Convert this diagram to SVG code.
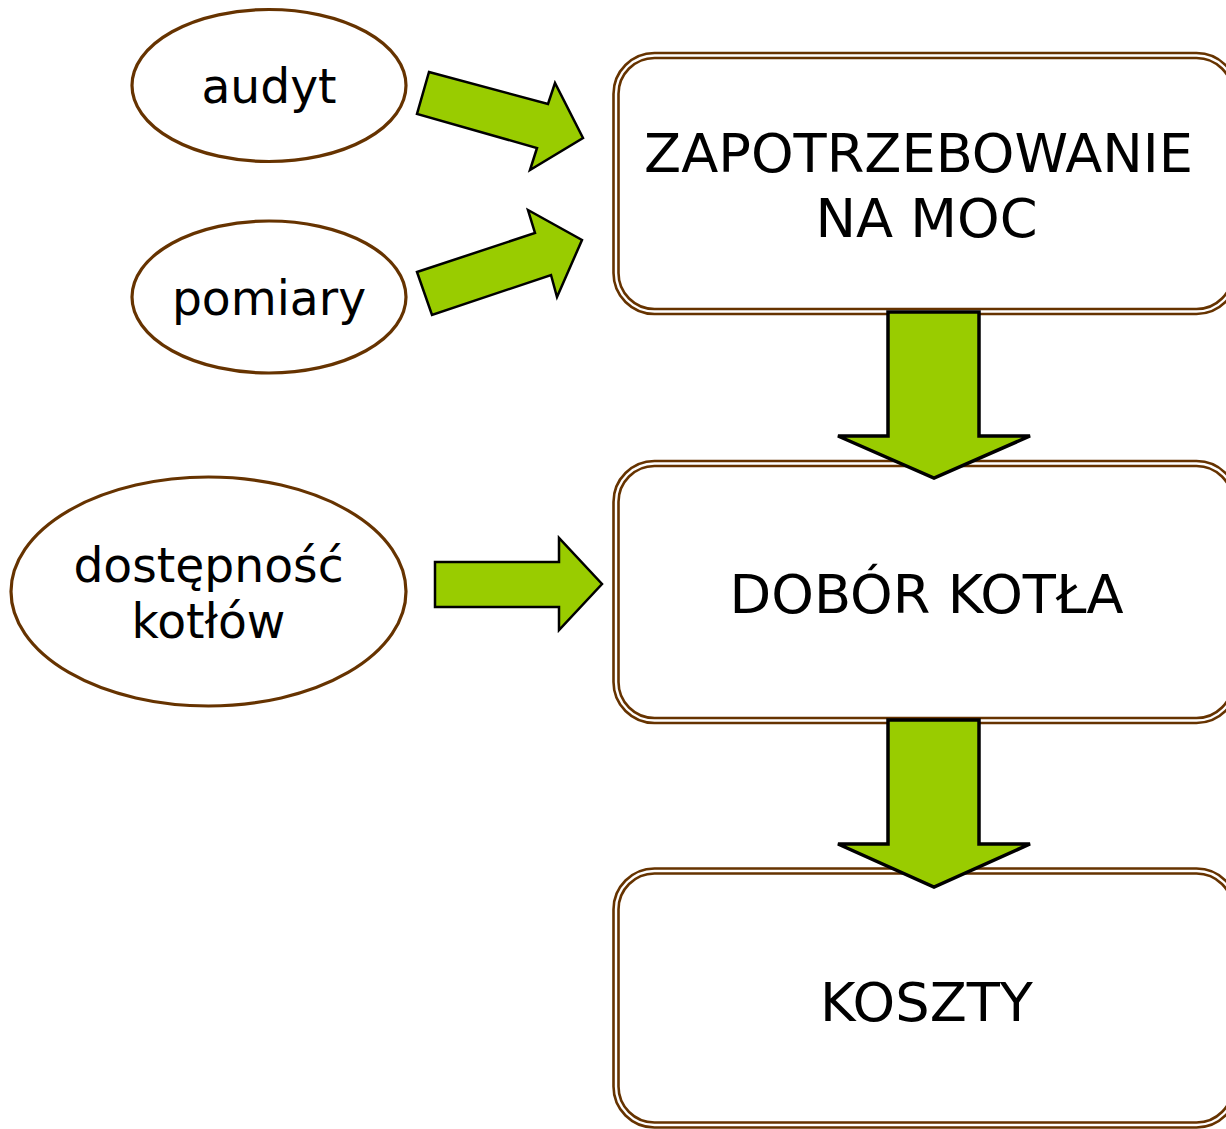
<svg xmlns="http://www.w3.org/2000/svg" width="1226" height="1129" viewBox="0 0 1226 1129">
<style>
.bg{fill:#ffffff}
.ell{fill:#ffffff;stroke:#663300;stroke-width:3.2}
.boxo{fill:#ffffff;stroke:#663300;stroke-width:2.6}
.boxi{fill:none;stroke:#663300;stroke-width:2.6}
.arr{fill:#99CC00;stroke:#000000;stroke-width:2.5;stroke-linejoin:miter}
.arrd{fill:#99CC00;stroke:#000000;stroke-width:3.5;stroke-linejoin:miter}
.t1{font-family:"DejaVu Sans",Verdana,sans-serif;font-size:47.2px;fill:#000000;text-anchor:middle}
.t2{font-family:"DejaVu Sans",Verdana,sans-serif;font-size:54.2px;fill:#000000;text-anchor:middle}
</style>
<rect class="bg" x="0" y="0" width="1226" height="1129"/>
<g id="node-zapotrzebowanie">
<rect class="boxo" x="613.5" y="53" width="624" height="261" rx="41" ry="41"/>
<rect class="boxi" x="618.5" y="58" width="614" height="251" rx="36" ry="36"/>
<text class="t2" x="918.5" y="172">ZAPOTRZEBOWANIE</text>
<text class="t2" x="926.5" y="237">NA MOC</text>
</g>
<g id="node-dobor">
<rect class="boxo" x="613.5" y="461" width="624" height="262" rx="41" ry="41"/>
<rect class="boxi" x="618.5" y="466" width="614" height="252" rx="36" ry="36"/>
<text class="t2" x="926.5" y="613">DOBÓR KOTŁA</text>
</g>
<g id="node-koszty">
<rect class="boxo" x="613.5" y="868.5" width="624" height="259" rx="41" ry="41"/>
<rect class="boxi" x="618.5" y="873.5" width="614" height="249" rx="36" ry="36"/>
<text class="t2" x="926.5" y="1021">KOSZTY</text>
</g>
<g id="node-audyt">
<ellipse class="ell" cx="269" cy="85.5" rx="137" ry="76"/>
<text class="t1" x="269" y="103">audyt</text>
</g>
<g id="node-pomiary">
<ellipse class="ell" cx="269" cy="297" rx="137" ry="76"/>
<text class="t1" x="269" y="315">pomiary</text>
</g>
<g id="node-dostepnosc">
<ellipse class="ell" cx="208.5" cy="591.5" rx="197.5" ry="114.5"/>
<text class="t1" x="208.5" y="582">dostępność</text>
<text class="t1" x="208.5" y="638">kotłów</text>
</g>
<g id="connectors">
<polygon class="arr" points="429,72 548,104 555,83 583,138 530,170 537,148 417,114"/>
<polygon class="arr" points="417,272 535,233 528,210 582,240 557,297 551,275 432,315"/>
<polygon class="arr" points="435,562 559,562 559,538 602,584 559,630 559,607 435,607"/>
<polygon class="arrd" points="888,312 979,312 979,436 1030,436 934,478 838,436 888,436"/>
<polygon class="arrd" points="888,720 979,720 979,844 1030,844 934,887 838,844 888,844"/>
</g>
</svg>
